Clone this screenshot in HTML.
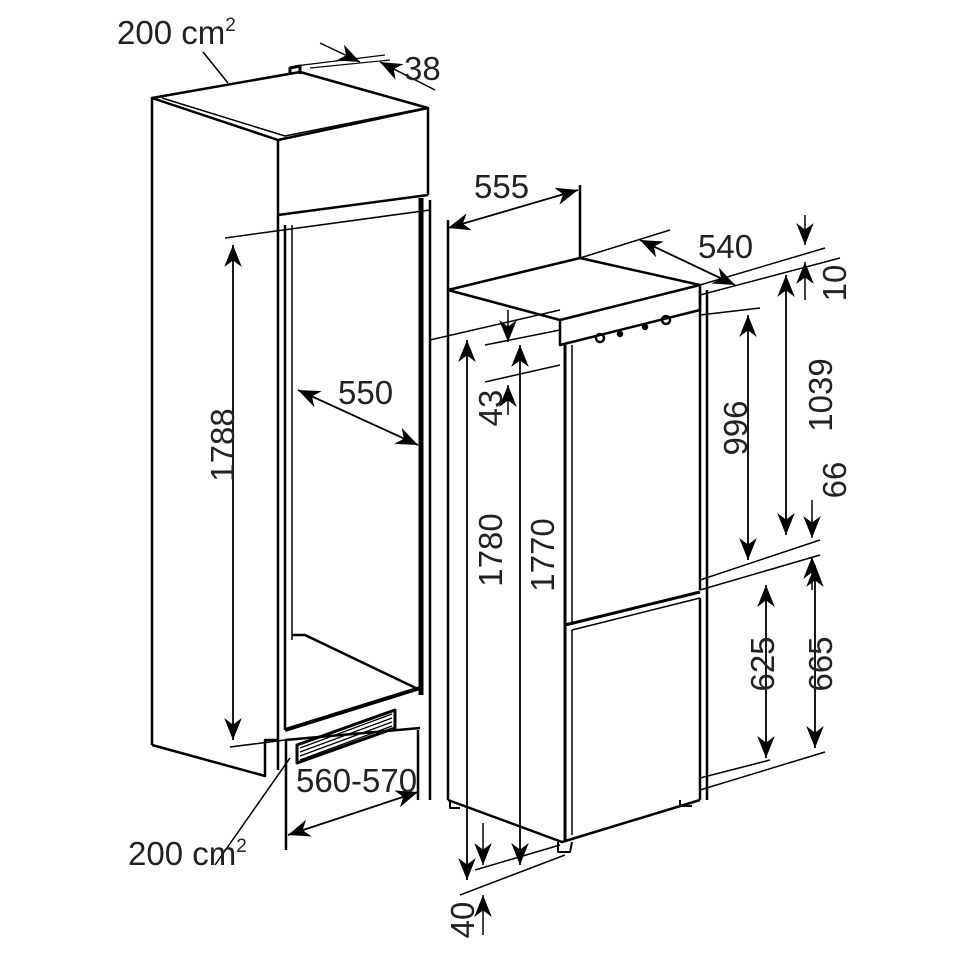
<!DOCTYPE html>
<html><head><style>
html,body{margin:0;padding:0;background:#fff}
svg{display:block}
text{font-family:"Liberation Sans",sans-serif;font-size:33px;fill:#222}
</style></head><body>
<svg width="960" height="960" viewBox="0 0 960 960" xmlns="http://www.w3.org/2000/svg">
<defs>
<marker id="b" viewBox="0 0 10 10" refX="10" refY="5" markerWidth="22" markerHeight="22" orient="auto-start-reverse" markerUnits="userSpaceOnUse"><path d="M0,1 L10,5 L0,9 L3,5 z" fill="#000"/></marker>
</defs>
<g stroke="#000" fill="none" stroke-width="2.5" stroke-linejoin="round">
<path d="M152,98 L278,140 L428,108 L300,72 L152,98 Z"/>
<path d="M162,98 L285,136 L425,108" stroke-width="1.5"/>
<line x1="152" y1="98" x2="152" y2="745"/>
<line x1="278" y1="140" x2="278" y2="770"/>
<line x1="428" y1="108" x2="428" y2="195"/>
<line x1="278" y1="215" x2="428" y2="195"/>
<line x1="421" y1="198" x2="421" y2="695" stroke-width="5"/>
<line x1="430" y1="200" x2="430" y2="800"/>
<line x1="285" y1="225" x2="285" y2="730"/>
<line x1="292" y1="225" x2="292" y2="640" stroke-width="1.5"/>
<path d="M292,635 L305,635 L420,690"/>
<path d="M285,730 L420,688" stroke-width="4"/>
<path d="M297,745 L395,710 L395,728 L297,763 Z" stroke-width="3"/>
<g stroke-width="1.2"><line x1="300" y1="748" x2="392" y2="714"/><line x1="300" y1="752" x2="392" y2="718"/><line x1="300" y1="756" x2="392" y2="722"/><line x1="300" y1="760" x2="392" y2="726"/></g>
<path d="M285,740 L420,728"/>
<path d="M152,745 L265,776 L265,740 L278,740"/>
<path d="M286,740 L286,850"/>
<line x1="418" y1="730" x2="418" y2="800"/>
<path d="M290,75 L290,68 L300,66 L300,74" stroke-width="3"/>
<line x1="203" y1="52" x2="228" y2="83" stroke-width="1.5"/>
<line x1="295" y1="66" x2="385" y2="55" stroke-width="1.2"/>
<line x1="310" y1="68" x2="390" y2="60" stroke-width="1.2"/>
<line x1="320" y1="43" x2="360" y2="62" stroke-width="1.5" marker-end="url(#b)"/>
<line x1="435" y1="90" x2="380" y2="62" stroke-width="1.5" marker-end="url(#b)"/>
<line x1="225" y1="238" x2="430" y2="210" stroke-width="1.5"/>
<line x1="233" y1="245" x2="233" y2="740" stroke-width="1.8" marker-start="url(#b)" marker-end="url(#b)"/>
<line x1="230" y1="747" x2="285" y2="740" stroke-width="1.5"/>
<line x1="298" y1="390" x2="418" y2="445" stroke-width="1.8" marker-start="url(#b)" marker-end="url(#b)"/>
<line x1="288" y1="835" x2="418" y2="792" stroke-width="1.8" marker-start="url(#b)" marker-end="url(#b)"/>
<line x1="215" y1="865" x2="290" y2="758" stroke-width="1.5"/>

<path d="M448,290 L580,258 L700,285 L560,320 Z"/>
<line x1="580" y1="258" x2="580" y2="185"/>
<line x1="448" y1="220" x2="448" y2="800"/>
<line x1="448" y1="228" x2="578" y2="190" stroke-width="1.8" marker-start="url(#b)" marker-end="url(#b)"/>
<path d="M560,320 L560,345 L700,310 L700,285"/>
<line x1="565" y1="345" x2="565" y2="840" stroke-width="3"/>
<line x1="572" y1="345" x2="572" y2="625" stroke-width="1.5"/>
<line x1="700" y1="290" x2="700" y2="590"/>
<line x1="707" y1="290" x2="707" y2="800"/>
<path d="M565,625 L700,592" stroke-width="3"/>
<path d="M572,630 L700,598" stroke-width="1.5"/>
<line x1="572" y1="630" x2="572" y2="835" stroke-width="1.5"/>
<line x1="700" y1="598" x2="700" y2="800"/>
<path d="M448,800 L562,842 L700,800"/>
<circle cx="600" cy="338" r="4"/><circle cx="620" cy="334" r="2" fill="#000"/><circle cx="645" cy="327" r="2" fill="#000"/><circle cx="666" cy="320" r="4"/>
<path d="M450,800 L450,808 L460,808" stroke-width="2"/>
<path d="M558,842 L558,852 L570,852 L572,842" stroke-width="2"/>
<path d="M680,800 L680,806 L692,806" stroke-width="2"/>
<line x1="580" y1="258" x2="670" y2="230" stroke-width="1.5"/>
<line x1="640" y1="240" x2="735" y2="285" stroke-width="1.8" marker-start="url(#b)" marker-end="url(#b)"/>
<line x1="700" y1="285" x2="825" y2="248" stroke-width="1.5"/>
<line x1="700" y1="295" x2="840" y2="258" stroke-width="1.5"/>
<line x1="700" y1="315" x2="760" y2="308" stroke-width="1.5"/>
<line x1="805" y1="215" x2="805" y2="245" stroke-width="1.5" marker-end="url(#b)"/>
<line x1="805" y1="300" x2="805" y2="262" stroke-width="1.5" marker-end="url(#b)"/>
<line x1="748" y1="315" x2="748" y2="560" stroke-width="1.8" marker-start="url(#b)" marker-end="url(#b)"/>
<line x1="786" y1="275" x2="786" y2="535" stroke-width="1.8" marker-start="url(#b)" marker-end="url(#b)"/>
<line x1="700" y1="580" x2="820" y2="540" stroke-width="1.5"/>
<line x1="700" y1="590" x2="820" y2="555" stroke-width="1.5"/>
<line x1="812" y1="500" x2="812" y2="538" stroke-width="1.5" marker-end="url(#b)"/>
<line x1="812" y1="590" x2="812" y2="557" stroke-width="1.5" marker-end="url(#b)"/>
<line x1="766" y1="585" x2="766" y2="758" stroke-width="1.8" marker-start="url(#b)" marker-end="url(#b)"/>
<line x1="815" y1="565" x2="815" y2="748" stroke-width="1.8" marker-start="url(#b)" marker-end="url(#b)"/>
<line x1="700" y1="790" x2="825" y2="752" stroke-width="1.5"/>
<line x1="700" y1="778" x2="770" y2="760" stroke-width="1.5"/>
<line x1="430" y1="340" x2="560" y2="310" stroke-width="1.5"/>
<line x1="485" y1="345" x2="560" y2="330" stroke-width="1.5"/>
<line x1="485" y1="382" x2="560" y2="365" stroke-width="1.5"/>
<line x1="508" y1="310" x2="508" y2="342" stroke-width="1.5" marker-end="url(#b)"/>
<line x1="508" y1="415" x2="508" y2="385" stroke-width="1.5" marker-end="url(#b)"/>
<line x1="467" y1="340" x2="467" y2="880" stroke-width="1.8" marker-start="url(#b)" marker-end="url(#b)"/>
<line x1="520" y1="345" x2="520" y2="865" stroke-width="1.8" marker-start="url(#b)" marker-end="url(#b)"/>
<line x1="475" y1="870" x2="560" y2="845" stroke-width="1.5"/>
<line x1="460" y1="895" x2="565" y2="855" stroke-width="1.5"/>
<line x1="483" y1="823" x2="483" y2="865" stroke-width="1.5" marker-end="url(#b)"/>
<line x1="483" y1="935" x2="483" y2="895" stroke-width="1.5" marker-end="url(#b)"/>
</g>
<text x="117" y="44">200 cm<tspan font-size="19" dy="-13">2</tspan></text>
<text x="404" y="80">38</text>
<text x="128" y="865">200 cm<tspan font-size="19" dy="-13">2</tspan></text>
<text x="296" y="792">560-570</text>
<text x="338" y="404">550</text>
<text x="474" y="198">555</text>
<text x="698" y="258">540</text>
<text transform="translate(234,445) rotate(-90)" text-anchor="middle">1788</text>
<text transform="translate(502,550) rotate(-90)" text-anchor="middle">1780</text>
<text transform="translate(554,555) rotate(-90)" text-anchor="middle">1770</text>
<text transform="translate(502,408) rotate(-90)" text-anchor="middle">43</text>
<text transform="translate(474,920) rotate(-90)" text-anchor="middle">40</text>
<text transform="translate(747,428) rotate(-90)" text-anchor="middle">996</text>
<text transform="translate(832,395) rotate(-90)" text-anchor="middle">1039</text>
<text transform="translate(846,283) rotate(-90)" text-anchor="middle">10</text>
<text transform="translate(846,480) rotate(-90)" text-anchor="middle">66</text>
<text transform="translate(774,664) rotate(-90)" text-anchor="middle">625</text>
<text transform="translate(832,664) rotate(-90)" text-anchor="middle">665</text>
</svg>
</body></html>
